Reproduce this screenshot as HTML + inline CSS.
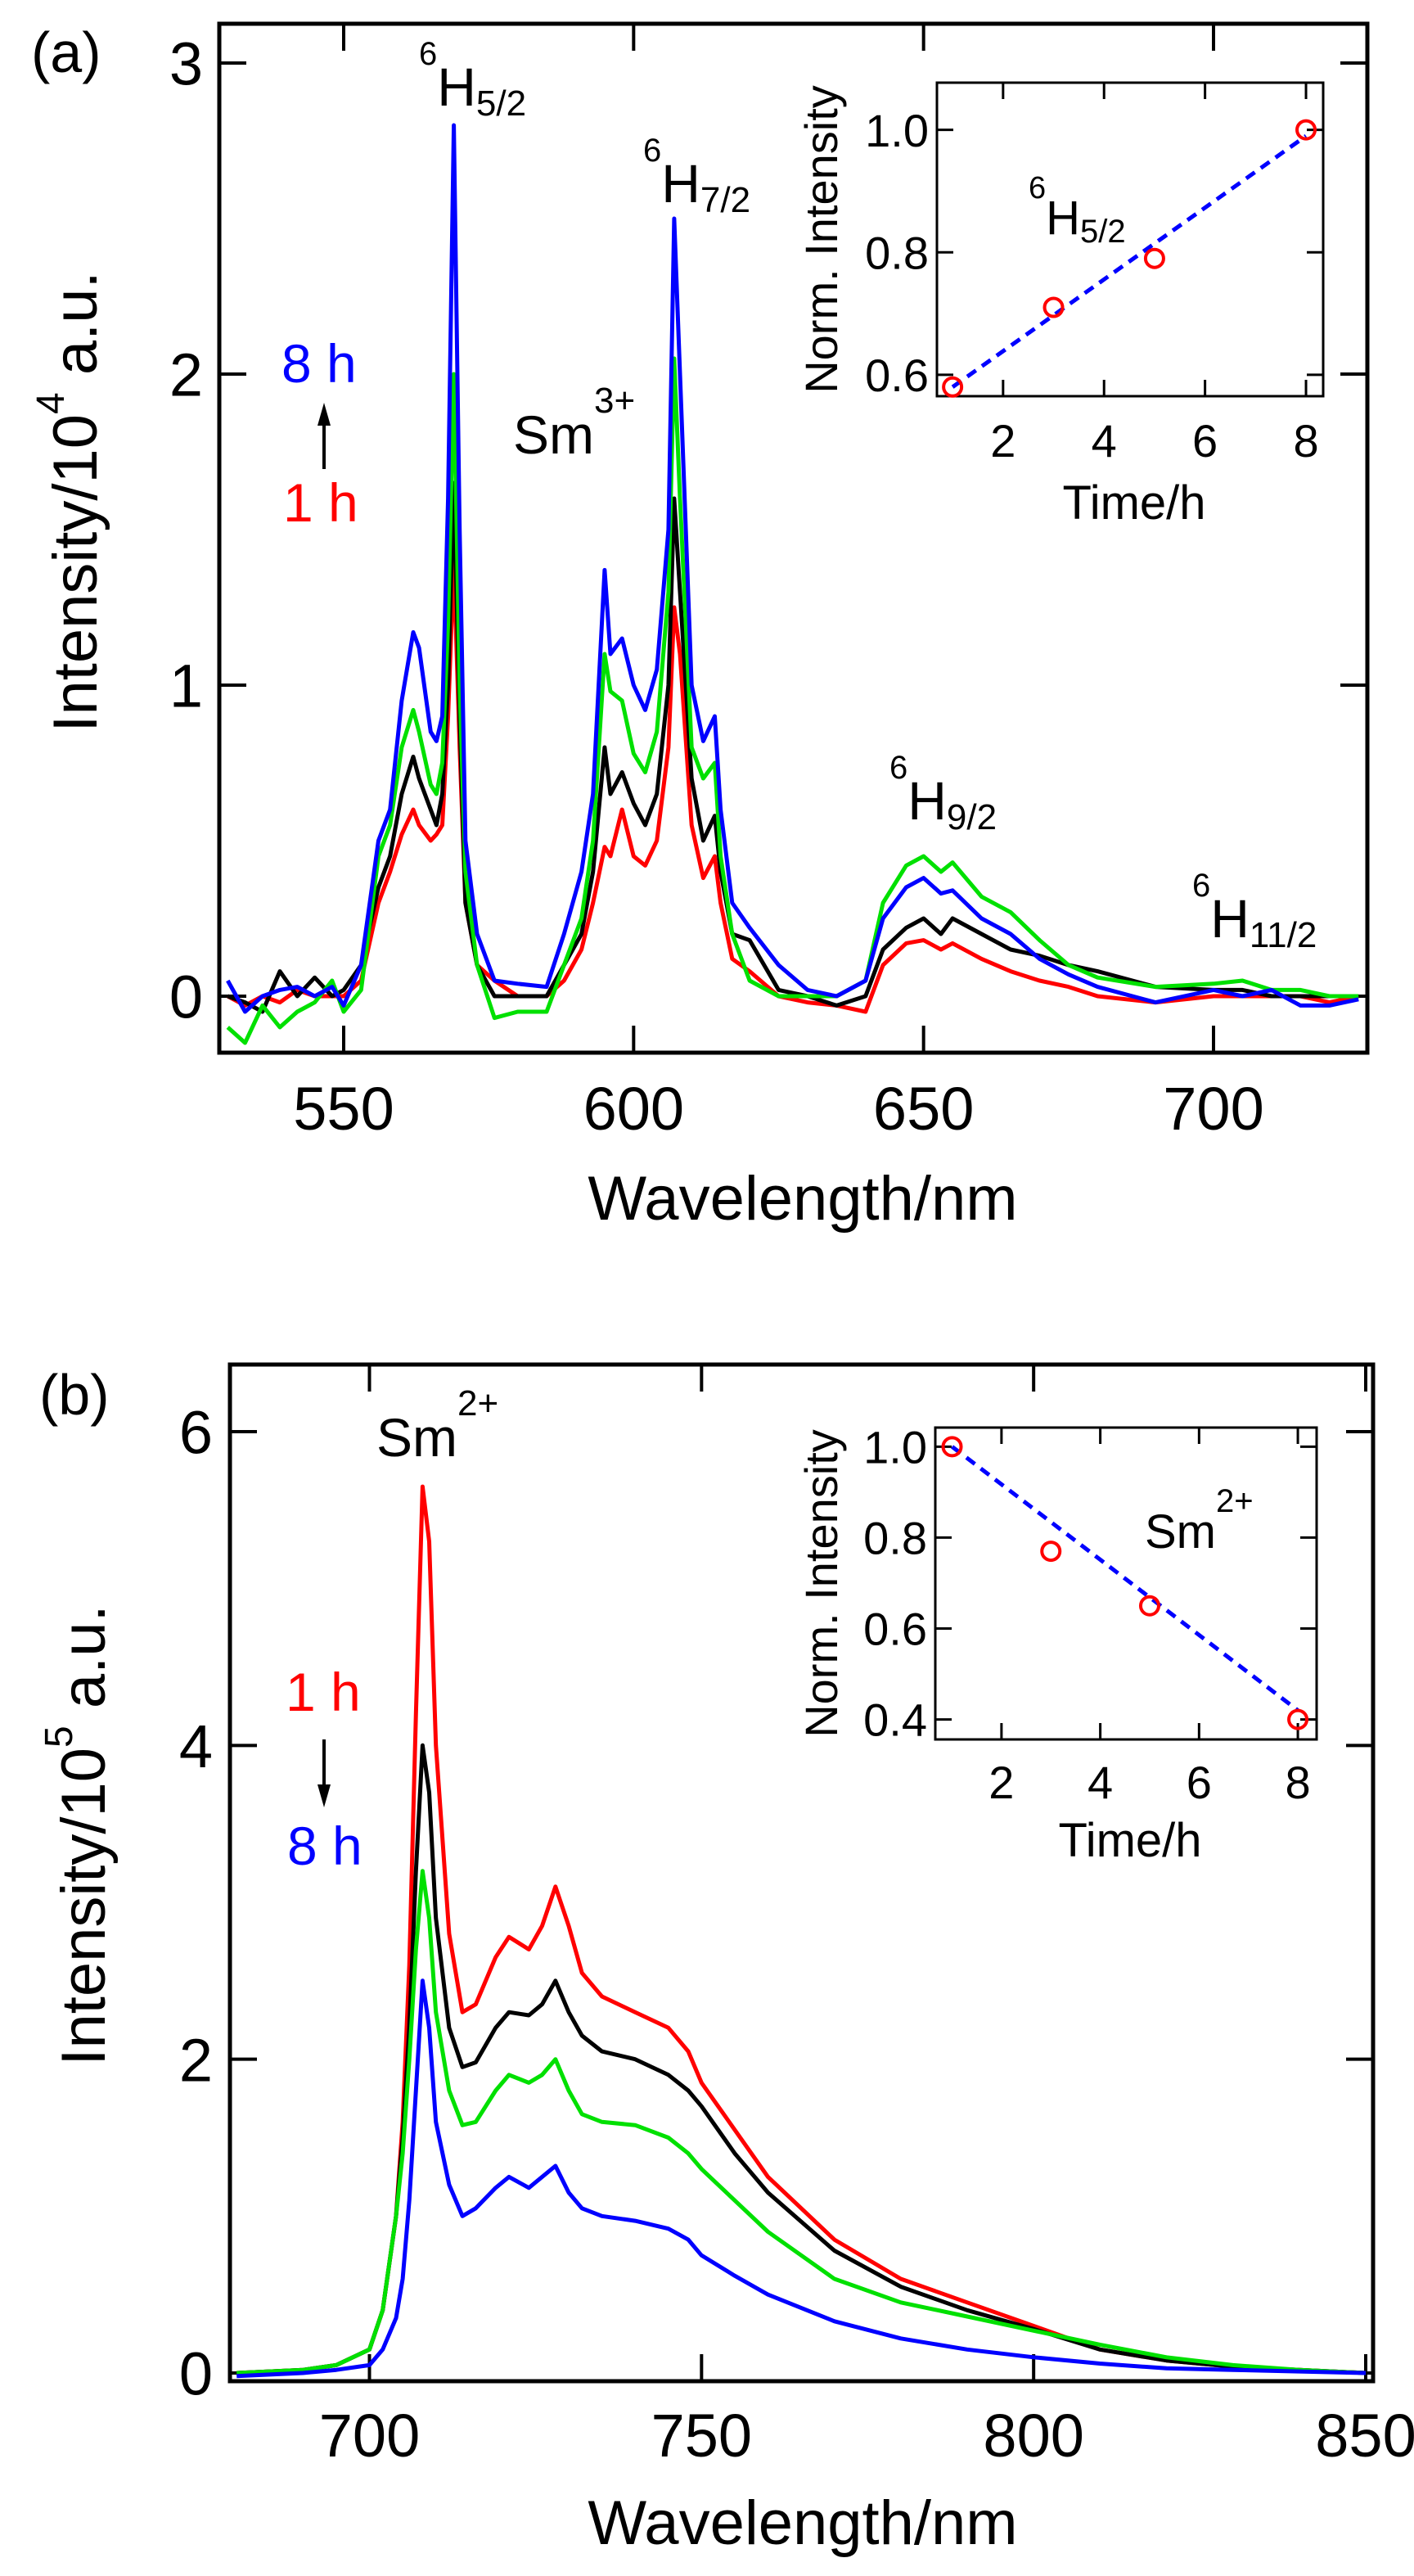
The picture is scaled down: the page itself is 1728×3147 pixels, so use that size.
<!DOCTYPE html>
<html><head><meta charset="utf-8"><style>
html,body{margin:0;padding:0;background:#fff}
svg{display:block;font-family:"Liberation Sans",Arial,sans-serif}
</style></head><body>
<svg id="fig" width="1728" height="3147" viewBox="0 0 1728 3147" xmlns="http://www.w3.org/2000/svg">
<g id="pa"></g>
<g id="pb"></g>
<g id="labels" fill="#000">
 <text x="38" y="88" font-size="70">(a)</text>
 <text x="512" y="129" font-size="66"><tspan font-size="40" dy="-50">6</tspan><tspan dy="50">H</tspan><tspan font-size="44" dy="12">5/2</tspan></text>
 <text x="786" y="247" font-size="66"><tspan font-size="40" dy="-50">6</tspan><tspan dy="50">H</tspan><tspan font-size="44" dy="12">7/2</tspan></text>
 <text x="627" y="554" font-size="66">Sm<tspan font-size="44" dy="-50">3+</tspan></text>
 <text x="344" y="467" font-size="66" fill="#0000ff">8 h</text>
 <text x="346" y="637" font-size="66" fill="#ff0000">1 h</text>
 <line x1="396" y1="573" x2="396" y2="510" stroke="#000" stroke-width="4"/>
 <polygon points="388,520 404,520 396,492" fill="#000"/>
 <text x="1087" y="1001" font-size="66"><tspan font-size="40" dy="-50">6</tspan><tspan dy="50">H</tspan><tspan font-size="44" dy="12">9/2</tspan></text>
 <text x="1457" y="1145" font-size="66"><tspan font-size="40" dy="-50">6</tspan><tspan dy="50">H</tspan><tspan font-size="44" dy="12">11/2</tspan></text>
 <text x="1257" y="286" font-size="58"><tspan font-size="38" dy="-44">6</tspan><tspan dy="44">H</tspan><tspan font-size="40" dy="10">5/2</tspan></text>
 <text x="48" y="1728" font-size="70">(b)</text>
 <text x="460" y="1779" font-size="66">Sm<tspan font-size="44" dy="-50">2+</tspan></text>
 <text x="349" y="2090" font-size="66" fill="#ff0000">1 h</text>
 <line x1="396" y1="2125" x2="396" y2="2190" stroke="#000" stroke-width="4"/>
 <polygon points="388,2180 404,2180 396,2208" fill="#000"/>
 <text x="351" y="2278" font-size="66" fill="#0000ff">8 h</text>
 <text x="1399" y="1891" font-size="58">Sm<tspan font-size="40" dy="-44">2+</tspan></text>
</g>
</svg>
<script>
// ---- Panel (a) data ----
const aWl=[530,533,536,539,542,545,548,550,553,556,558,560,562,563,565,566,567,568,569,570,571,573,576,580,585,588,591,593,595,596,598,600,602,604,606,607,608,610,612,614,615,617,620,625,630,635,640,643,647,650,653,655,660,665,670,675,680,690,700,705,710,715,720,725];
const aRed=[0,-0.03,0,-0.02,0.02,0,0,0,0.05,0.3,0.4,0.52,0.6,0.55,0.5,0.52,0.55,0.9,1.4,0.8,0.3,0.1,0.05,0,0,0.05,0.15,0.3,0.48,0.45,0.6,0.45,0.42,0.5,0.8,1.25,1.1,0.55,0.38,0.45,0.3,0.12,0.08,0,-0.02,-0.03,-0.05,0.1,0.17,0.18,0.15,0.17,0.12,0.08,0.05,0.03,0,-0.02,0,0,0,0,-0.02,0];
const aBlack=[0,-0.02,-0.05,0.08,0,0.06,0,0.02,0.1,0.35,0.45,0.65,0.77,0.7,0.6,0.55,0.65,1.0,1.65,0.9,0.3,0.1,0,0,0,0.1,0.2,0.4,0.8,0.65,0.72,0.62,0.55,0.65,1.0,1.6,1.3,0.7,0.5,0.58,0.4,0.2,0.18,0.02,0,-0.03,0,0.15,0.22,0.25,0.2,0.25,0.2,0.15,0.13,0.1,0.08,0.03,0.02,0.02,0,0,0,0];
const aGreen=[-0.1,-0.15,-0.03,-0.1,-0.05,-0.02,0.05,-0.05,0.02,0.45,0.55,0.8,0.92,0.85,0.68,0.65,0.75,1.2,2.0,1.0,0.4,0.1,-0.07,-0.05,-0.05,0.1,0.25,0.5,1.1,0.98,0.95,0.78,0.72,0.85,1.3,2.05,1.6,0.8,0.7,0.75,0.45,0.2,0.05,0,0,0,0.05,0.3,0.42,0.45,0.4,0.43,0.32,0.27,0.18,0.1,0.06,0.03,0.04,0.05,0.02,0.02,0,0];
const aBlue=[0.05,-0.05,0,0.02,0.03,0,0.03,-0.03,0.1,0.5,0.6,0.95,1.17,1.12,0.85,0.82,0.9,1.6,2.8,1.5,0.5,0.2,0.05,0.04,0.03,0.2,0.4,0.65,1.37,1.1,1.15,1.0,0.92,1.05,1.5,2.5,2.0,1.0,0.82,0.9,0.6,0.3,0.22,0.1,0.02,0,0.05,0.25,0.35,0.38,0.33,0.34,0.25,0.2,0.12,0.07,0.03,-0.02,0.02,0,0.02,-0.03,-0.03,-0.01];
const aXTicks=[550,600,650,700];
const aYTicks=[0,1,2,3];
const aInsetT=[1,3,5,8];
const aInsetV=[0.58,0.71,0.79,1.0];
const aFitT=[1,8];
const aFitV=[0.58,0.99];
const aInsetXTicks=[2,4,6,8];
const aInsetYTicks=[0.6,0.8,1.0];
// ---- Panel (b) data ----
const bWl=[680,690,695,700,702,704,705,706,707,708,709,710,712,714,716,719,721,724,726,728,730,732,735,740,745,748,750,755,760,770,780,790,800,810,820,830,840,850];
const bRed=[0,0.02,0.05,0.15,0.4,1.0,1.6,2.6,4.2,5.65,5.3,4.0,2.8,2.3,2.35,2.65,2.78,2.7,2.85,3.1,2.85,2.55,2.4,2.3,2.2,2.05,1.85,1.55,1.25,0.85,0.6,0.45,0.3,0.15,0.08,0.04,0.02,0];
const bBlack=[0,0.02,0.05,0.15,0.4,1.0,1.5,2.2,3.2,4.0,3.7,2.9,2.2,1.95,1.98,2.2,2.3,2.28,2.35,2.5,2.3,2.15,2.05,2.0,1.9,1.8,1.7,1.4,1.15,0.78,0.55,0.4,0.28,0.15,0.08,0.04,0.02,0];
const bGreen=[0,0.02,0.05,0.15,0.4,1.0,1.4,2.0,2.7,3.2,2.9,2.3,1.8,1.58,1.6,1.8,1.9,1.85,1.9,2.0,1.8,1.65,1.6,1.58,1.5,1.4,1.3,1.1,0.9,0.6,0.45,0.36,0.27,0.18,0.1,0.05,0.02,0];
const bBlue=[-0.02,0,0.02,0.05,0.15,0.35,0.6,1.1,1.8,2.5,2.2,1.6,1.2,1.0,1.05,1.18,1.25,1.18,1.25,1.32,1.15,1.05,1.0,0.97,0.92,0.85,0.75,0.62,0.5,0.33,0.22,0.15,0.1,0.06,0.03,0.02,0.01,0];
const bXTicks=[700,750,800,850];
const bYTicks=[0,2,4,6];
const bInsetT=[1,3,5,8];
const bInsetV=[1.0,0.77,0.65,0.40];
const bFitT=[1,8];
const bFitV=[1.0,0.42];
const bInsetXTicks=[2,4,6,8];
const bInsetYTicks=[0.4,0.6,0.8,1.0];

const NS='http://www.w3.org/2000/svg';
function mk(parent,tag,attrs,text){const e=document.createElementNS(NS,tag);for(const k in attrs)e.setAttribute(k,attrs[k]);if(text!==undefined)e.textContent=text;parent.appendChild(e);return e;}
function scale(d0,d1,p0,p1){return v=>p0+(v-d0)*(p1-p0)/(d1-d0);}

function axesBox(g,box,sx,sy,xt,yt,opt){
  const r=mk(g,'rect',{x:box.l,y:box.t,width:box.r-box.l,height:box.b-box.t,fill:'none',stroke:'#000','stroke-width':opt.bw});
  
  
  xt.forEach(v=>{const x=sx(v);
    const t1=mk(g,'line',{x1:x,x2:x,y1:box.b,y2:box.b-opt.tl,stroke:'#000','stroke-width':opt.tw});
    
    
    const t2=mk(g,'line',{x1:x,x2:x,y1:box.t,y2:box.t+opt.tl,stroke:'#000','stroke-width':opt.tw});
    
    
    const lb=mk(g,'text',{x:x,y:opt.xly,'font-size':opt.fs,'text-anchor':'middle'},opt.xfmt(v));
    
    
  });
  yt.forEach(v=>{const y=sy(v);
    const t1=mk(g,'line',{x1:box.l,x2:box.l+opt.tl,y1:y,y2:y,stroke:'#000','stroke-width':opt.tw});
    
    
    const t2=mk(g,'line',{x1:box.r,x2:box.r-opt.tl,y1:y,y2:y,stroke:'#000','stroke-width':opt.tw});
    
    
    const lb=mk(g,'text',{x:opt.ylx,y:y+opt.fs*0.36,'font-size':opt.fs,'text-anchor':'end'},opt.yfmt(v));
    
    
  });
}
function series(g,xs,ys,sx,sy,color,name,box){
  let d='';xs.forEach((x,i)=>{d+=(i?'L':'M')+sx(x).toFixed(1)+','+sy(ys[i]).toFixed(1);});
  const p=mk(g,'path',{d:d,fill:'none',stroke:color,'stroke-width':5,'stroke-linejoin':'round','clip-path':'url(#'+box+')'});
  
  
}
function clip(id,box){const svg=document.getElementById('fig');let defs=svg.querySelector('defs')||mk(svg,'defs',{});const c=mk(defs,'clipPath',{id:id});mk(c,'rect',{x:box.l,y:box.t,width:box.r-box.l,height:box.b-box.t});}

function inset(g,box,dx,dy,xt,yt,T,V,FT,FV,name,xlabelY,xtlY){
  const sx=scale(dx[0],dx[1],box.l,box.r), sy=scale(dy[0],dy[1],box.b,box.t);
  const bg=mk(g,'rect',{x:box.l,y:box.t,width:box.r-box.l,height:box.b-box.t,fill:'#fff'});
  
  
  axesBox(g,box,sx,sy,xt,yt,{bw:3,tw:3,tl:20,fs:56,xly:xtlY,ylx:box.l-10,name:name,xfmt:v=>String(v),yfmt:v=>v.toFixed(1)});
  const fl=mk(g,'line',{x1:sx(FT[0]),y1:sy(FV[0]),x2:sx(FT[1]),y2:sy(FV[1]),stroke:'#0000ff','stroke-width':5,'stroke-dasharray':'13,9'});
  
  
  T.forEach((t,i)=>{const c=mk(g,'circle',{cx:sx(t),cy:sy(V[i]),r:11,fill:'none',stroke:'#ff0000','stroke-width':4});
    
    });
  const xl=mk(g,'text',{x:(box.l+box.r)/2+5,y:xlabelY,'font-size':58,'text-anchor':'middle'},'Time/h');
  
  
  const cy=(box.t+box.b)/2;
  const yl=mk(g,'text',{x:1023,y:cy,'font-size':56,'text-anchor':'middle',transform:'rotate(-90 1023 '+cy+')'},'Norm. Intensity');
  
  
}

// Panel a
(function(){
  const g=document.getElementById('pa');
  const box={l:268,r:1671,t:29,b:1286};
  const sx=scale(550,700,420,1483), sy=scale(0,3,1217,77);
  clip('clipA',box);
  axesBox(g,box,sx,sy,aXTicks,aYTicks,{bw:5,tw:4,tl:33,fs:74,xly:1380,ylx:248,name:'main-a',xfmt:v=>String(v),yfmt:v=>String(v)});
  series(g,aWl,aRed,sx,sy,'#ff0000','series-a-1h-red','clipA');
  series(g,aWl,aBlack,sx,sy,'#000000','series-a-black','clipA');
  series(g,aWl,aGreen,sx,sy,'#00e000','series-a-green','clipA');
  series(g,aWl,aBlue,sx,sy,'#0000ff','series-a-8h-blue','clipA');
  const xt=mk(g,'text',{x:981,y:1490,'font-size':76,'text-anchor':'middle'},'Wavelength/nm');
  
  
  const yt=mk(g,'text',{x:0,y:0,'font-size':76,'text-anchor':'middle',transform:'translate(118 613) rotate(-90)'});
  
  
  yt.innerHTML='Intensity/10<tspan font-size="48" dy="-40">4</tspan><tspan dy="40"> a.u.</tspan>';
  inset(g,{l:1145,r:1617,t:101,b:484},[0.69,8.34],[0.565,1.077],aInsetXTicks,aInsetYTicks,aInsetT,aInsetV,aFitT,aFitV,'inset-a',634,558);
})();
// Panel b
(function(){
  const g=document.getElementById('pb');
  const box={l:281,r:1678,t:1667,b:2909};
  const sx=scale(700,850,451.5,1669), sy=scale(0,6,2899,1749);
  clip('clipB',box);
  axesBox(g,box,sx,sy,bXTicks,bYTicks,{bw:5,tw:4,tl:33,fs:74,xly:3001,ylx:260,name:'main-b',xfmt:v=>String(v),yfmt:v=>String(v)});
  series(g,bWl,bRed,sx,sy,'#ff0000','series-b-1h-red','clipB');
  series(g,bWl,bBlack,sx,sy,'#000000','series-b-black','clipB');
  series(g,bWl,bGreen,sx,sy,'#00e000','series-b-green','clipB');
  series(g,bWl,bBlue,sx,sy,'#0000ff','series-b-8h-blue','clipB');
  const xt=mk(g,'text',{x:981,y:3108,'font-size':76,'text-anchor':'middle'},'Wavelength/nm');
  
  
  const yt=mk(g,'text',{x:0,y:0,'font-size':76,'text-anchor':'middle',transform:'translate(128 2242) rotate(-90)'});
  
  
  yt.innerHTML='Intensity/10<tspan font-size="48" dy="-40">5</tspan><tspan dy="40"> a.u.</tspan>';
  inset(g,{l:1143,r:1609,t:1744,b:2125},[0.66,8.38],[0.356,1.042],bInsetXTicks,bInsetYTicks,bInsetT,bInsetV,bFitT,bFitV,'inset-b',2268,2197);
})();
</script>
</body></html>
